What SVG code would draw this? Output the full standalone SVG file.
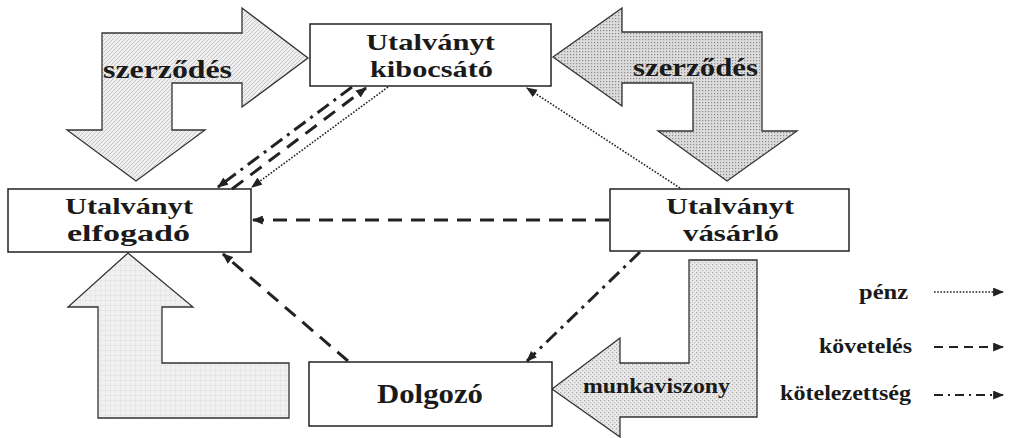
<svg xmlns="http://www.w3.org/2000/svg" width="1013" height="438" viewBox="0 0 1013 438">
<style>
.box{fill:#fff;stroke:#222;stroke-width:1.5}
.big{stroke:#333;stroke-width:1.3}
.t{font-family:"Liberation Serif","Times New Roman",serif;font-weight:bold;fill:#1a1a1a}
.node{font-size:23px}
.lab{font-size:26px}
.leg{font-size:22px}
.pz{fill:none;stroke:#222;stroke-width:1.6;stroke-dasharray:1.6 1.6}
.kv{fill:none;stroke:#222;stroke-width:3;stroke-dasharray:14 9}
.kt{fill:none;stroke:#222;stroke-width:3;stroke-dasharray:14 6 3 6}
.lpz{fill:none;stroke:#222;stroke-width:1.6;stroke-dasharray:1.6 1.6}
.lkv{fill:none;stroke:#222;stroke-width:2.2;stroke-dasharray:9 6}
.lkt{fill:none;stroke:#222;stroke-width:2.2;stroke-dasharray:9 5 2 5}
</style>
<defs>
<marker id="ah" viewBox="0 0 10 8" refX="9" refY="4" markerWidth="11" markerHeight="9" markerUnits="userSpaceOnUse" orient="auto">
<path d="M0,0 L10,4 L0,8 z" fill="#222"/>
</marker>
<pattern id="p1" width="4" height="4" patternUnits="userSpaceOnUse">
<rect width="4" height="4" fill="#efefef"/>
<path d="M0,4 L4,0" stroke="#b8b8b8" stroke-width="0.7"/>
</pattern>
<pattern id="p2" width="3" height="3" patternUnits="userSpaceOnUse">
<rect width="3" height="3" fill="#dcdcdc"/>
<rect x="0" y="0" width="1.2" height="1.2" fill="#8a8a8a"/>
</pattern>
<pattern id="p3" width="5" height="5" patternUnits="userSpaceOnUse">
<rect width="5" height="5" fill="#f1f1f1"/>
<path d="M0,0 H5 M0,0 V5" stroke="#d2d2d2" stroke-width="0.6"/>
</pattern>
<pattern id="p4" width="4" height="4" patternUnits="userSpaceOnUse">
<rect width="4" height="4" fill="#e9e9e9"/>
<rect x="0" y="0" width="1.2" height="1.2" fill="#a8a8a8"/>
<rect x="2" y="2" width="1.2" height="1.2" fill="#b8b8b8"/>
</pattern>
</defs>

<g id="arrow-szerzodes-left">
<polygon class="big" fill="url(#p1)" points="102,33 242,33 242,8 308,58 242,107 242,83 172,83 172,130 205,130 136,181 67,130 102,130"/>
<text class="t lab" x="103" y="78" textLength="129" lengthAdjust="spacingAndGlyphs">szerződés</text>
</g>
<g id="arrow-szerzodes-right">
<polygon class="big" fill="url(#p2)" points="553,57 622,8 622,32 762,32 762,131 797,131 727,181 658,131 693,131 693,83 622,83 622,106"/>
<text class="t lab" x="633" y="76" textLength="125" lengthAdjust="spacingAndGlyphs">szerződés</text>
</g>
<g id="arrow-elfogado">
<polygon class="big" fill="url(#p3)" points="128,253 193,307 162,307 162,363 289,363 289,418 98,418 98,307 68,307"/>
</g>
<g id="arrow-munkaviszony">
<polygon class="big" fill="url(#p4)" points="552,389 620,338 620,363 689,363 689,260 757,260 757,417 620,417 620,437"/>
<text class="t" font-size="20" x="583" y="393" textLength="147" lengthAdjust="spacingAndGlyphs">munkaviszony</text>
</g>

<g id="node-kibocsato">
<rect class="box" x="310" y="24" width="241" height="62"/>
<text class="t node" x="366" y="50" textLength="129" lengthAdjust="spacingAndGlyphs">Utalványt</text>
<text class="t node" x="370" y="77" textLength="123" lengthAdjust="spacingAndGlyphs">kibocsátó</text>
</g>
<g id="node-elfogado">
<rect class="box" x="8" y="189" width="243" height="63"/>
<text class="t node" x="65" y="214" textLength="128" lengthAdjust="spacingAndGlyphs">Utalványt</text>
<text class="t node" x="67" y="241" textLength="123" lengthAdjust="spacingAndGlyphs">elfogadó</text>
</g>
<g id="node-vasarlo">
<rect class="box" x="610" y="189" width="239" height="62"/>
<text class="t node" x="666" y="214" textLength="128" lengthAdjust="spacingAndGlyphs">Utalványt</text>
<text class="t node" x="683" y="241" textLength="96" lengthAdjust="spacingAndGlyphs">vásárló</text>
</g>
<g id="node-dolgozo">
<rect class="box" x="309" y="362" width="243" height="64"/>
<text class="t" font-size="27" x="377" y="403" textLength="106" lengthAdjust="spacingAndGlyphs">Dolgozó</text>
</g>

<g id="connectors">
<line class="pz" x1="680" y1="188" x2="527" y2="88" marker-end="url(#ah)"/>
<line class="pz" x1="388" y1="87" x2="252" y2="187" marker-end="url(#ah)"/>
<line class="kv" x1="232" y1="189" x2="366" y2="88" marker-end="url(#ah)"/>
<line class="kt" x1="352" y1="87" x2="218" y2="187" marker-end="url(#ah)"/>
<line class="kv" x1="609" y1="220" x2="253" y2="220" marker-end="url(#ah)"/>
<line class="kv" x1="348" y1="361" x2="223" y2="254" marker-end="url(#ah)"/>
<line class="kt" x1="640" y1="252" x2="527" y2="361" marker-end="url(#ah)"/>
</g>

<g id="legend">
<text class="t leg" x="908" y="299" text-anchor="end" textLength="49" lengthAdjust="spacingAndGlyphs">pénz</text>
<line class="lpz" x1="934" y1="292" x2="1003" y2="292" marker-end="url(#ah)"/>
<text class="t leg" x="912" y="353" text-anchor="end" textLength="93" lengthAdjust="spacingAndGlyphs">követelés</text>
<line class="lkv" x1="934" y1="347" x2="1003" y2="347" marker-end="url(#ah)"/>
<text class="t leg" x="911" y="400" text-anchor="end" textLength="131" lengthAdjust="spacingAndGlyphs">kötelezettség</text>
<line class="lkt" x1="934" y1="395" x2="1003" y2="395" marker-end="url(#ah)"/>
</g>
</svg>
